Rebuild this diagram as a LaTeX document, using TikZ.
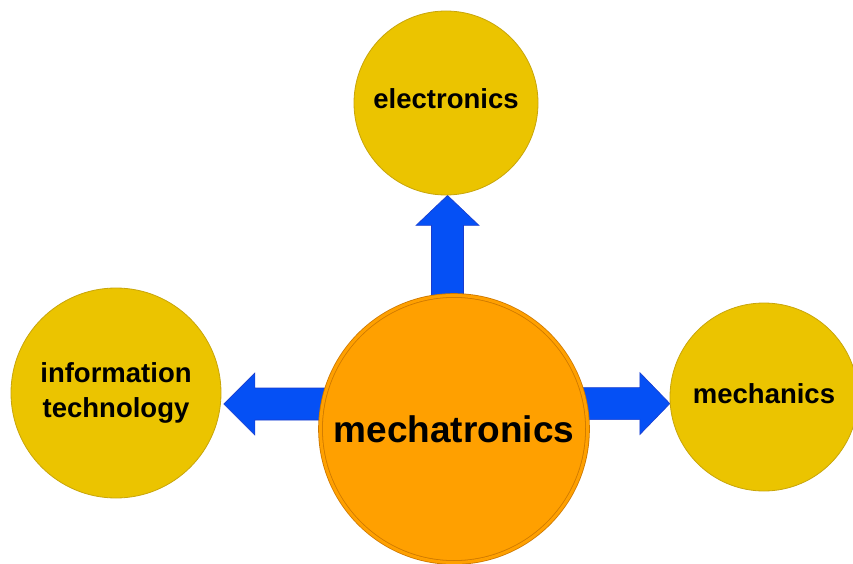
\documentclass[tikz,border=0pt]{standalone}
\usepackage{fontspec}
\setmainfont{Liberation Sans}
\usetikzlibrary{backgrounds,calc}
\definecolor{yel}{RGB}{235,196,0}
\definecolor{yelb}{RGB}{200,165,10}
\definecolor{org}{RGB}{255,160,0}
\definecolor{orgb}{RGB}{205,120,0}
\definecolor{blu}{RGB}{5,80,245}
\definecolor{blub}{RGB}{25,60,205}
\begin{document}
\begin{tikzpicture}[x=1pt,y=1pt,
  topic/.style={circle, fill=yel, draw=yelb, line width=0.8pt, inner sep=0pt,
    font=\fontsize{27.5}{35}\selectfont\bfseries, align=center, text=black},
  core/.style={circle, fill=org, draw=orgb, double=org, double distance=3pt,
    line width=0.8pt, inner sep=0pt, font=\fontsize{37}{44}\selectfont\bfseries, text=black},
  blockarrow/.style={fill=blu, draw=blub, line width=0.6pt, line join=miter}]
\useasboundingbox (0,0) rectangle (853,563);
\node[core, minimum size=267pt] (m) at (454,134) {mechatronics};
\node[topic, minimum size=184pt, text depth=8pt] (e) at (446,460) {electronics};
\node[topic, minimum size=210pt] (i) at (116,170) {information\\technology};
\node[topic, minimum size=188pt, text depth=6pt] (k) at (764,166) {mechanics};
\coordinate (tu) at ($(e.south)+(1.5,0)$);
\coordinate (tl) at ($(i.-6)+(3,0)$);
\coordinate (tr) at (k.184);
\begin{scope}[on background layer]
\draw[blockarrow] (tu) -- ++(31.5,-30) -- ++(-15.5,0) -- ($(tu|-m.center)+(16,0)$)
  -- ($(tu|-m.center)+(-16,0)$) -- ($(tu)+(-16,-30)$) -- ++(-15.5,0) -- cycle;
\draw[blockarrow] (tl) -- ++(31,31) -- ++(0,-15) -- ($(tl-|m.center)+(0,16)$)
  -- ($(tl-|m.center)+(0,-16)$) -- ($(tl)+(31,-16)$) -- ++(0,-15) -- cycle;
\draw[blockarrow] (tr) -- ++(-30,31) -- ++(0,-15) -- ($(tr-|m.center)+(0,16)$)
  -- ($(tr-|m.center)+(0,-16)$) -- ($(tr)+(-30,-16)$) -- ++(0,-15) -- cycle;
\end{scope}
\end{tikzpicture}
\end{document}
